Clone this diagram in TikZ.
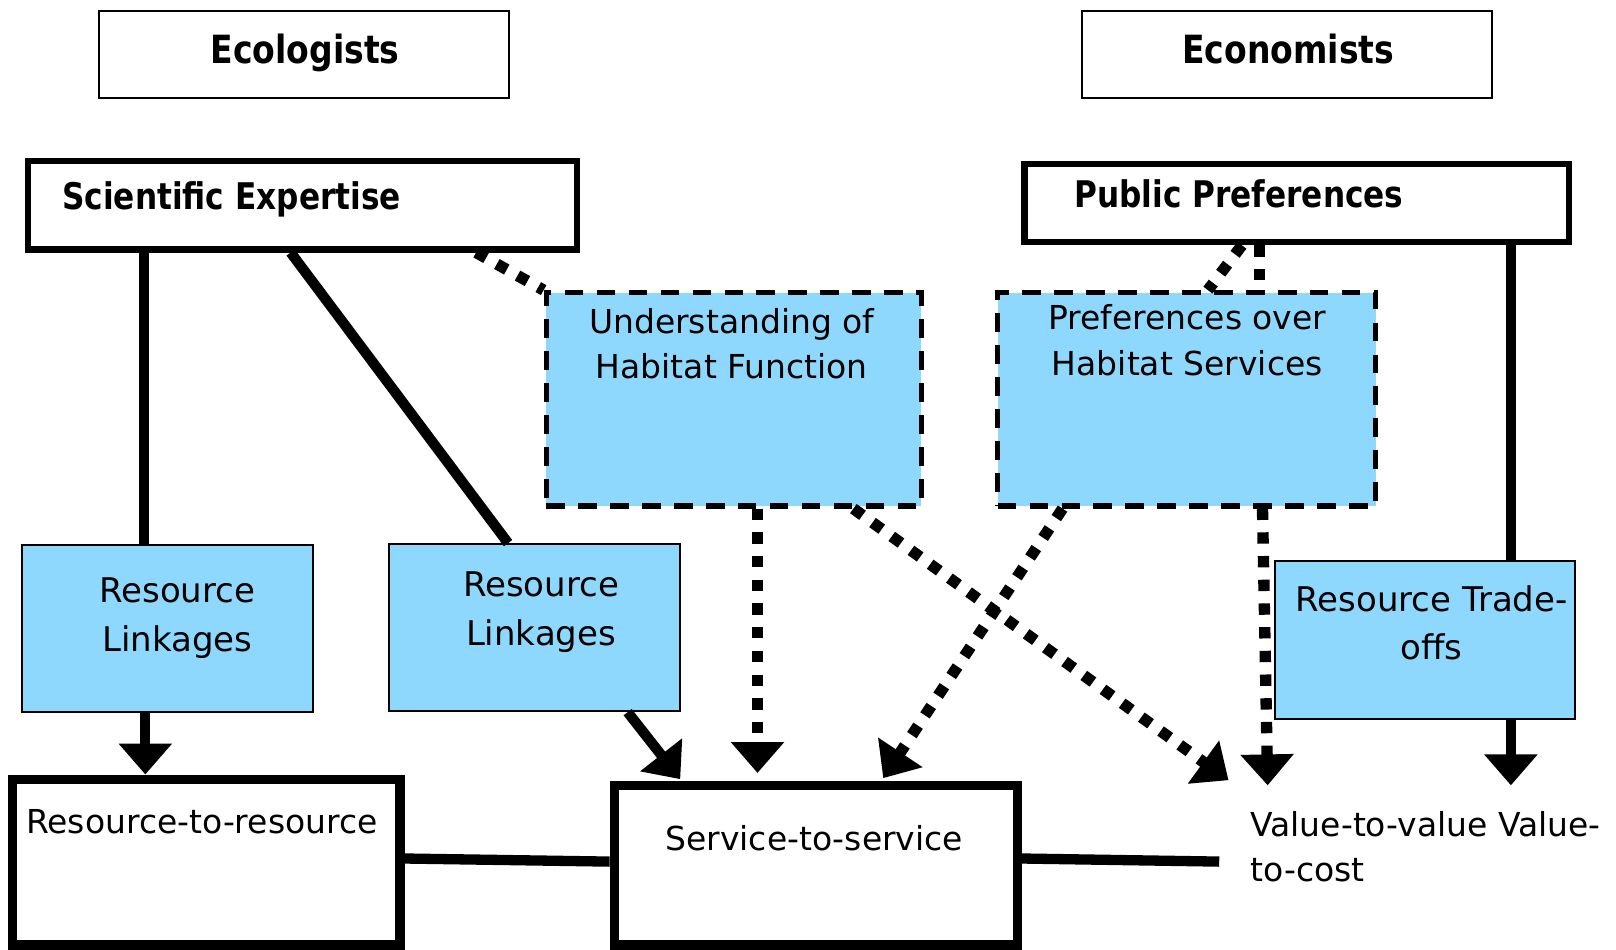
\documentclass[tikz,border=0pt]{standalone}
\usepackage{fontspec}
\setmainfont{DejaVu Sans}
\newfontfamily\hfont{DejaVu Sans Bold}[FakeStretch=0.85]
\usetikzlibrary{arrows.meta,fit}
\definecolor{lblue}{HTML}{8FD8FD}
\begin{document}
\begin{tikzpicture}[x=0.5pt,y=-0.5pt,
  frame/.style={draw, inner sep=0pt, line width=1pt},
  thickframe/.style={draw, inner sep=0pt, line width=3pt},
  heavyframe/.style={draw, inner sep=0pt, line width=4.5pt},
  bluebox/.style={fill=lblue, draw, inner sep=0pt, line width=1pt},
  dashbox/.style={fill=lblue, draw, inner sep=0pt, line width=2.5pt, dash pattern=on 9pt off 6.5pt},
  thickline/.style={line width=5pt},
  dotline/.style={line width=5.5pt, dash pattern=on 5.5pt off 6pt},
  tip/.style={-{Triangle[width=25pt,length=15pt]}},
  titletxt/.style={inner sep=0pt, font=\hfont\fontsize{18.85pt}{22pt}\selectfont},
  subtxt/.style={inner sep=0pt, font=\hfont\fontsize{17.8pt}{21pt}\selectfont},
  bodytxt/.style={inner sep=0pt, font=\fontsize{16pt}{21.5pt}\selectfont},
  linktxt/.style={inner sep=0pt, font=\fontsize{16.5pt}{23.5pt}\selectfont}
]
\useasboundingbox (0,0) rectangle (1568,921);
% boxes
\node[frame, fit={(96,11)(494,95)}] (eco) {};
\node[frame, fit={(1050,11)(1448,95)}] (econ) {};
\node[thickframe, fit={(27,156)(560,242)}] (sci) {};
\node[thickframe, fit={(994,159)(1522,235)}] (pub) {};
\node[dashbox, fit={(530,284)(894,491)}] (und) {};
\node[dashbox, fit={(968,284)(1335,491)}] (pref) {};
\node[bluebox, fit={(21,529)(304,691)}] (rl1) {};
\node[bluebox, fit={(377,528)(660,690)}] (rl2) {};
\node[bluebox, fit={(1237,544)(1528,698)}] (rt) {};
\node[heavyframe, fit={(12,756)(388,917)}] (rr) {};
\node[heavyframe, fit={(596,762)(987,917)}] (svc) {};
% free ends
\coordinate (e2) at (660,756);
\coordinate (e3) at (735,750);
\coordinate (e4) at (1192,757);
\coordinate (e5) at (857,755);
\coordinate (e6) at (1230,762);
\coordinate (e7) at (1466,762);
\coordinate (e8) at (1183,836);
% connectors
\draw[thickline] (140,0 |- sci.south) -- (140,0 |- rl1.north);
\draw[thickline] (282,0 |- sci.south) -- (493,0 |- rl2.north);
\draw[dotline] (462,0 |- sci.south) -- (und.north west);
\draw[thickline, tip] (141,0 |- rl1.south) -- (141,0 |- rr.north);
\draw[thickline, tip] (609,0 |- rl2.south) -- (e2);
\draw[dotline, tip] (735,0 |- und.south) -- (e3);
\draw[dotline, tip] (828,0 |- und.south) -- (e4);
\draw[dotline, tip] (1031,0 |- pref.south) -- (e5);
\draw[dotline, tip] (1225,0 |- pref.south) -- (e6);
\draw[dotline] (1205,0 |- pub.south) -- (1172,0 |- pref.north);
\draw[dotline] (1222,0 |- pub.south) -- (1222,0 |- pref.north);
\draw[thickline] (1466,0 |- pub.south) -- (1466,0 |- rt.north);
\draw[thickline, tip] (1466,0 |- rt.south) -- (e7);
\draw[thickline] (rr.east |- 0,833) -- (svc.west |- 0,836);
\draw[thickline] (svc.east |- 0,833) -- (e8);
% texts
\node[titletxt, anchor=base] (ecotxt) at (296,62) {Ecologists};
\node[titletxt, anchor=base] (econtxt) at (1250,62) {Economists};
\node[subtxt, anchor=base west] (scitxt) at (60,203) {Scientific Expertise};
\node[subtxt, anchor=base west] (pubtxt) at (1042,201) {Public Preferences};
\node[bodytxt, anchor=base, align=center] (undtxt) at (710,367) {Understanding of\\Habitat Function};
\node[bodytxt, anchor=base, align=center, font=\fontsize{16pt}{22pt}\selectfont] (preftxt) at (1152,364) {Preferences over\\Habitat Services};
\node[linktxt, anchor=base, align=center] (rl1txt) at (172,632) {Resource\\Linkages};
\node[linktxt, anchor=base, align=center] (rl2txt) at (525,626) {Resource\\Linkages};
\node[linktxt, anchor=base, align=center] (rttxt) at (1389,640) {Resource Trade-\\offs};
\node[bodytxt, anchor=base west] (rrtxt) at (25,809) {Resource-to-resource};
\node[bodytxt, anchor=base] (svctxt) at (790,825) {Service-to-service};
\node[bodytxt, anchor=base west, align=left] (valtxt) at (1213,855) {Value-to-value Value-\\to-cost};
\end{tikzpicture}
\end{document}
